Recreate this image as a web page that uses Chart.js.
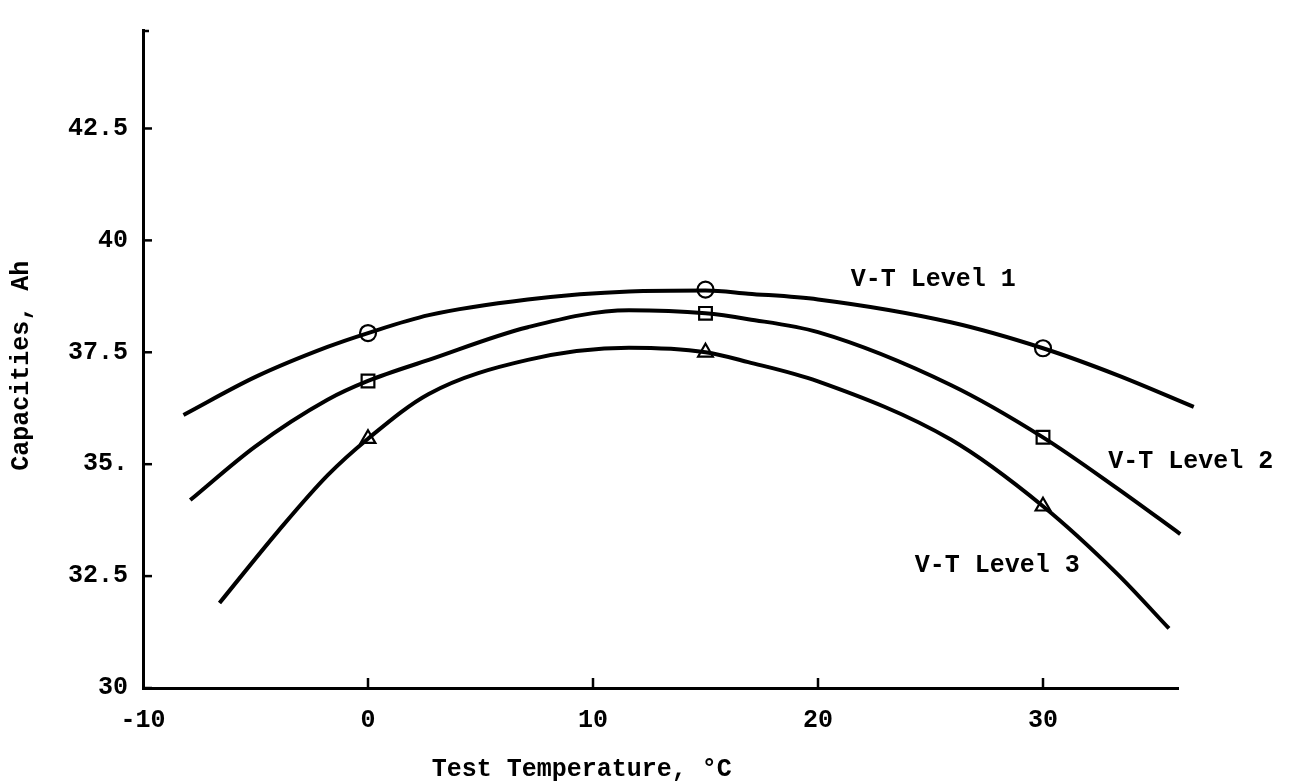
<!DOCTYPE html>
<html>
<head>
<meta charset="utf-8">
<script src="https://cdn.jsdelivr.net/npm/chart.js@4.4.1/dist/chart.umd.min.js"></script>
<style>
  html, body { margin: 0; padding: 0; background: #fff; }
  canvas { display: block; }
</style>
</head>
<body>
<canvas id="c" width="1289" height="784"></canvas>
<script>
// ---- Data ----
// Measured points (markers)
const testTemps = [0, 15, 30];
const level1Cap = [37.93, 38.90, 37.59];
const level2Cap = [36.86, 38.37, 35.60];
const level3Cap = [35.57, 37.50, 34.06];

// Fitted curves, points
const level1CurveT = [-8.2, -5, -1.8, 0, 2.7, 7.1, 11.6, 15, 16.9, 20, 25.9, 30, 33.3, 36.7];
const level1CurveC = [36.10, 36.95, 37.62, 37.93, 38.33, 38.68, 38.86, 38.88, 38.81, 38.68, 38.17, 37.59, 36.99, 36.28];
const level2CurveT = [-7.9, -5, -1.8, 0, 2.7, 7.1, 11.6, 15, 16.9, 20, 25.9, 30, 33.3, 36.1];
const level2CurveC = [34.20, 35.40, 36.44, 36.86, 37.33, 38.06, 38.44, 38.37, 38.24, 37.95, 36.77, 35.60, 34.46, 33.44];
const level3CurveT = [-6.6, -4, -1.8, 0, 2.7, 7.1, 11.6, 15, 16.9, 20, 25.9, 30, 33.3, 35.6];
const level3CurveC = [31.90, 33.50, 34.75, 35.57, 36.57, 37.33, 37.60, 37.50, 37.28, 36.85, 35.55, 34.06, 32.55, 31.33];

// Axis ticks
const xTickValues = [-10, 0, 10, 20, 30];
const xTickLabels = ['-10', '0', '10', '20', '30'];
const yTickValues = [30, 32.5, 35, 37.5, 40, 42.5];
const yTickLabels = ['30', '32.5', '35.', '37.5', '40', '42.5'];

// Series labels and their anchor (left edge, middle) in data units
const seriesNames = ['V-T Level 1', 'V-T Level 2', 'V-T Level 3'];
const seriesLabelT = [21.45, 32.9, 24.3];
const seriesLabelC = [39.12, 35.06, 32.73];

const xTitle = 'Test Temperature, °C';
const yTitle = 'Capacities, Ah';

// ---- Styling ----
const FONT = "'Liberation Mono', 'DejaVu Sans Mono', monospace";
const FS = 25;

function pts(xs, ys) { return xs.map((v, i) => ({ x: v, y: ys[i] })); }

function curve(xs, ys) {
  return {
    data: pts(xs, ys), showLine: true, borderColor: '#000', borderWidth: 4,
    pointRadius: 0, cubicInterpolationMode: 'monotone', fill: false, clip: false
  };
}
function markers(ys, style, r) {
  return {
    data: pts(testTemps, ys), showLine: false, pointStyle: style, pointRadius: r,
    pointBorderWidth: 2.2, pointBorderColor: '#000', pointBackgroundColor: 'rgba(0,0,0,0)', clip: false
  };
}

const overlay = {
  id: 'overlay',
  afterDraw(chart) {
    const { ctx, scales: { x, y } } = chart;
    ctx.save();
    ctx.strokeStyle = '#000';
    ctx.lineWidth = 2.5;
    // inward tick marks on y axis
    yTickValues.forEach(v => {
      const py = y.getPixelForValue(v);
      ctx.beginPath(); ctx.moveTo(x.left, py); ctx.lineTo(x.left + 9, py); ctx.stroke();
    });
    ctx.beginPath(); ctx.moveTo(x.left, y.top + 1); ctx.lineTo(x.left + 6, y.top + 1); ctx.stroke();
    // inward tick marks on x axis
    xTickValues.slice(1).forEach(v => {
      const px = x.getPixelForValue(v);
      ctx.beginPath(); ctx.moveTo(px, y.bottom); ctx.lineTo(px, y.bottom - 10); ctx.stroke();
    });
    // series labels
    ctx.fillStyle = '#000';
    ctx.font = 'bold ' + FS + 'px ' + FONT;
    ctx.textAlign = 'left';
    ctx.textBaseline = 'middle';
    seriesNames.forEach((n, i) => {
      ctx.fillText(n, x.getPixelForValue(seriesLabelT[i]), y.getPixelForValue(seriesLabelC[i]));
    });
    // x title (sits left of the plot centre in the reference)
    ctx.textAlign = 'center';
    ctx.fillText(xTitle, x.getPixelForValue(9.5), y.bottom + 82);
    // y title
    ctx.translate(22, y.getPixelForValue(37.2));
    ctx.rotate(-Math.PI / 2);
    ctx.fillText(yTitle, 0, 0);
    ctx.restore();
  }
};

new Chart(document.getElementById('c'), {
  type: 'scatter',
  data: {
    datasets: [
      curve(level1CurveT, level1CurveC),
      curve(level2CurveT, level2CurveC),
      curve(level3CurveT, level3CurveC),
      markers(level1Cap, 'circle', 8),
      markers(level2Cap, 'rect', 9),
      markers(level3Cap, 'triangle', 8.5)
    ]
  },
  options: {
    responsive: false,
    animation: false,
    events: [],
    layout: { padding: { top: 26, right: 111, left: 0, bottom: 0 } },
    plugins: { legend: { display: false }, tooltip: { enabled: false } },
    scales: {
      x: {
        type: 'linear', min: -10, max: 36,
        afterBuildTicks(s) { s.ticks = xTickValues.map(v => ({ value: v })); },
        afterFit(s) { s.height = 96; },
        grid: { display: false, drawTicks: false },
        border: { display: true, color: '#000', width: 3 },
        ticks: {
          padding: 18, color: '#000', maxRotation: 0,
          font: { family: FONT, size: FS, weight: 'bold' },
          callback(v) { const i = xTickValues.indexOf(v); return i >= 0 ? xTickLabels[i] : ''; }
        }
      },
      y: {
        type: 'linear', min: 30, max: 44.7,
        afterBuildTicks(s) { s.ticks = yTickValues.map(v => ({ value: v })); },
        afterFit(s) { s.width = 143; },
        grid: { display: false, drawTicks: false },
        border: { display: true, color: '#000', width: 3 },
        ticks: {
          padding: 15, color: '#000',
          font: { family: FONT, size: FS, weight: 'bold' },
          callback(v) { const i = yTickValues.indexOf(v); return i >= 0 ? yTickLabels[i] : ''; }
        }
      }
    }
  },
  plugins: [overlay]
});
</script>
</body>
</html>
